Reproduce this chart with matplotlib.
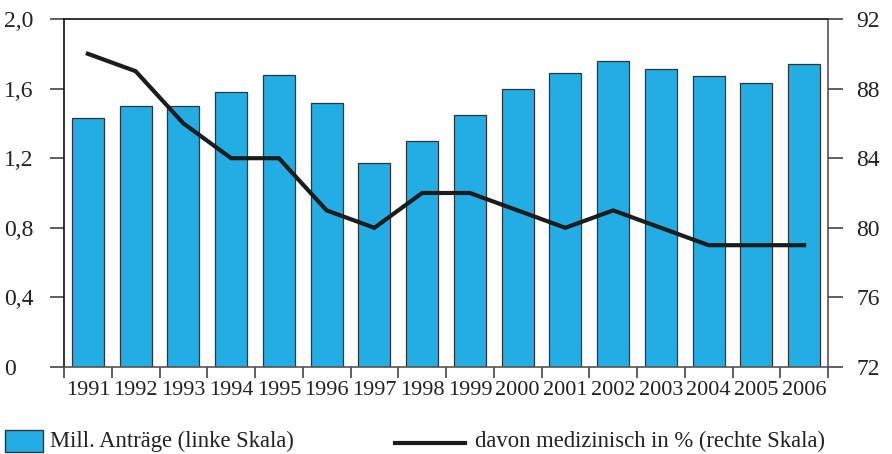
import matplotlib
matplotlib.use("Agg")
import matplotlib.pyplot as plt
from matplotlib.patches import Rectangle
from matplotlib.lines import Line2D
import numpy as np

years = ["1991", "1992", "1993", "1994", "1995", "1996", "1997", "1998",
         "1999", "2000", "2001", "2002", "2003", "2004", "2005", "2006"]
antraege = [1.43, 1.50, 1.50, 1.58, 1.68, 1.52, 1.17, 1.30,
            1.45, 1.60, 1.69, 1.76, 1.71, 1.67, 1.63, 1.74]
medizinisch = [90, 89, 86, 84, 84, 81, 80, 82, 82, 81, 80, 81, 80, 79, 79, 79]
left_ticks = [0, 0.4, 0.8, 1.2, 1.6, 2.0]
left_labels = ["0", "0,4", "0,8", "1,2", "1,6", "2,0"]
right_ticks = [72, 76, 80, 84, 88, 92]
right_labels = ["72", "76", "80", "84", "88", "92"]
label_bars = "Mill. Anträge (linke Skala)"
label_line = "davon medizinisch in % (rechte Skala)"

plt.rcParams['font.family'] = ['Liberation Serif', 'DejaVu Serif']
FS_X = 16
FS_Y = 17
FS_LEG = 16.3
BAR = '#22AEE4'
DARK = '#1c1c1c'
TICK = '#444444'
TXT = '#222222'

fig = plt.figure(figsize=(8.92, 4.54), dpi=100)
W, H = 892, 454
ax = fig.add_axes([64 / W, 1 - 367 / H, (828 - 64) / W, (367 - 19) / H])
x = np.arange(len(years))
ax.bar(x, antraege, width=0.67, color=BAR, edgecolor='#333333', linewidth=0.9, zorder=2)
ax.set_xlim(-0.5, len(years) - 0.5)
ax.set_ylim(0, 2.0)
ax.set_yticks(left_ticks)
ax.set_yticklabels(left_labels, fontsize=FS_Y, color=TXT, ha='left')
ax.tick_params(axis='y', direction='out', length=10, width=1.2, color=TICK,
               pad=(64 - 14 - 4) * 72 / 100)

ax.set_xticks(np.arange(-0.5, len(years)), minor=False)
ax.set_xticklabels([])
ax.set_xticks(x, minor=True)
ax.set_xticklabels(years, minor=True, fontsize=FS_X, color=TXT)
ax.tick_params(axis='x', which='major', direction='out', length=8, width=1.2, color=TICK)
ax.tick_params(axis='x', which='minor', length=0, pad=10)

for s in ['top', 'left']:
    ax.spines[s].set_color('#111111')
    ax.spines[s].set_linewidth(1.2)
for s in ['bottom', 'right']:
    ax.spines[s].set_color('#555555')
    ax.spines[s].set_linewidth(1.2)

ax2 = ax.twinx()
ax2.plot(x, medizinisch, color=DARK, linewidth=3.0, solid_joinstyle='miter', zorder=3)
ax2.set_ylim(72, 92)
ax2.set_yticks(right_ticks)
ax2.set_yticklabels(right_labels, fontsize=FS_Y, color=TXT)
ax2.tick_params(axis='y', direction='out', length=10.8, width=1.2, color=TICK, pad=9.5)
for s in ax2.spines.values():
    s.set_visible(False)

# Legend (manual, figure coordinates)
fig.add_artist(Rectangle((5 / W, 1 - 452 / H), 38 / W, 22 / H, transform=fig.transFigure,
                         facecolor=BAR, edgecolor='#333333', linewidth=1.0))
fig.text(50 / W, 1 - 441 / H, label_bars, fontsize=FS_LEG, va='center', ha='left', color=TXT)
fig.add_artist(Line2D([395 / W, 465 / W], [1 - 443 / H, 1 - 443 / H], transform=fig.transFigure,
                      color=DARK, linewidth=3.0))
fig.text(475 / W, 1 - 441 / H, label_line, fontsize=FS_LEG, va='center', ha='left', color=TXT)

fig.savefig("out.png", dpi=100)
